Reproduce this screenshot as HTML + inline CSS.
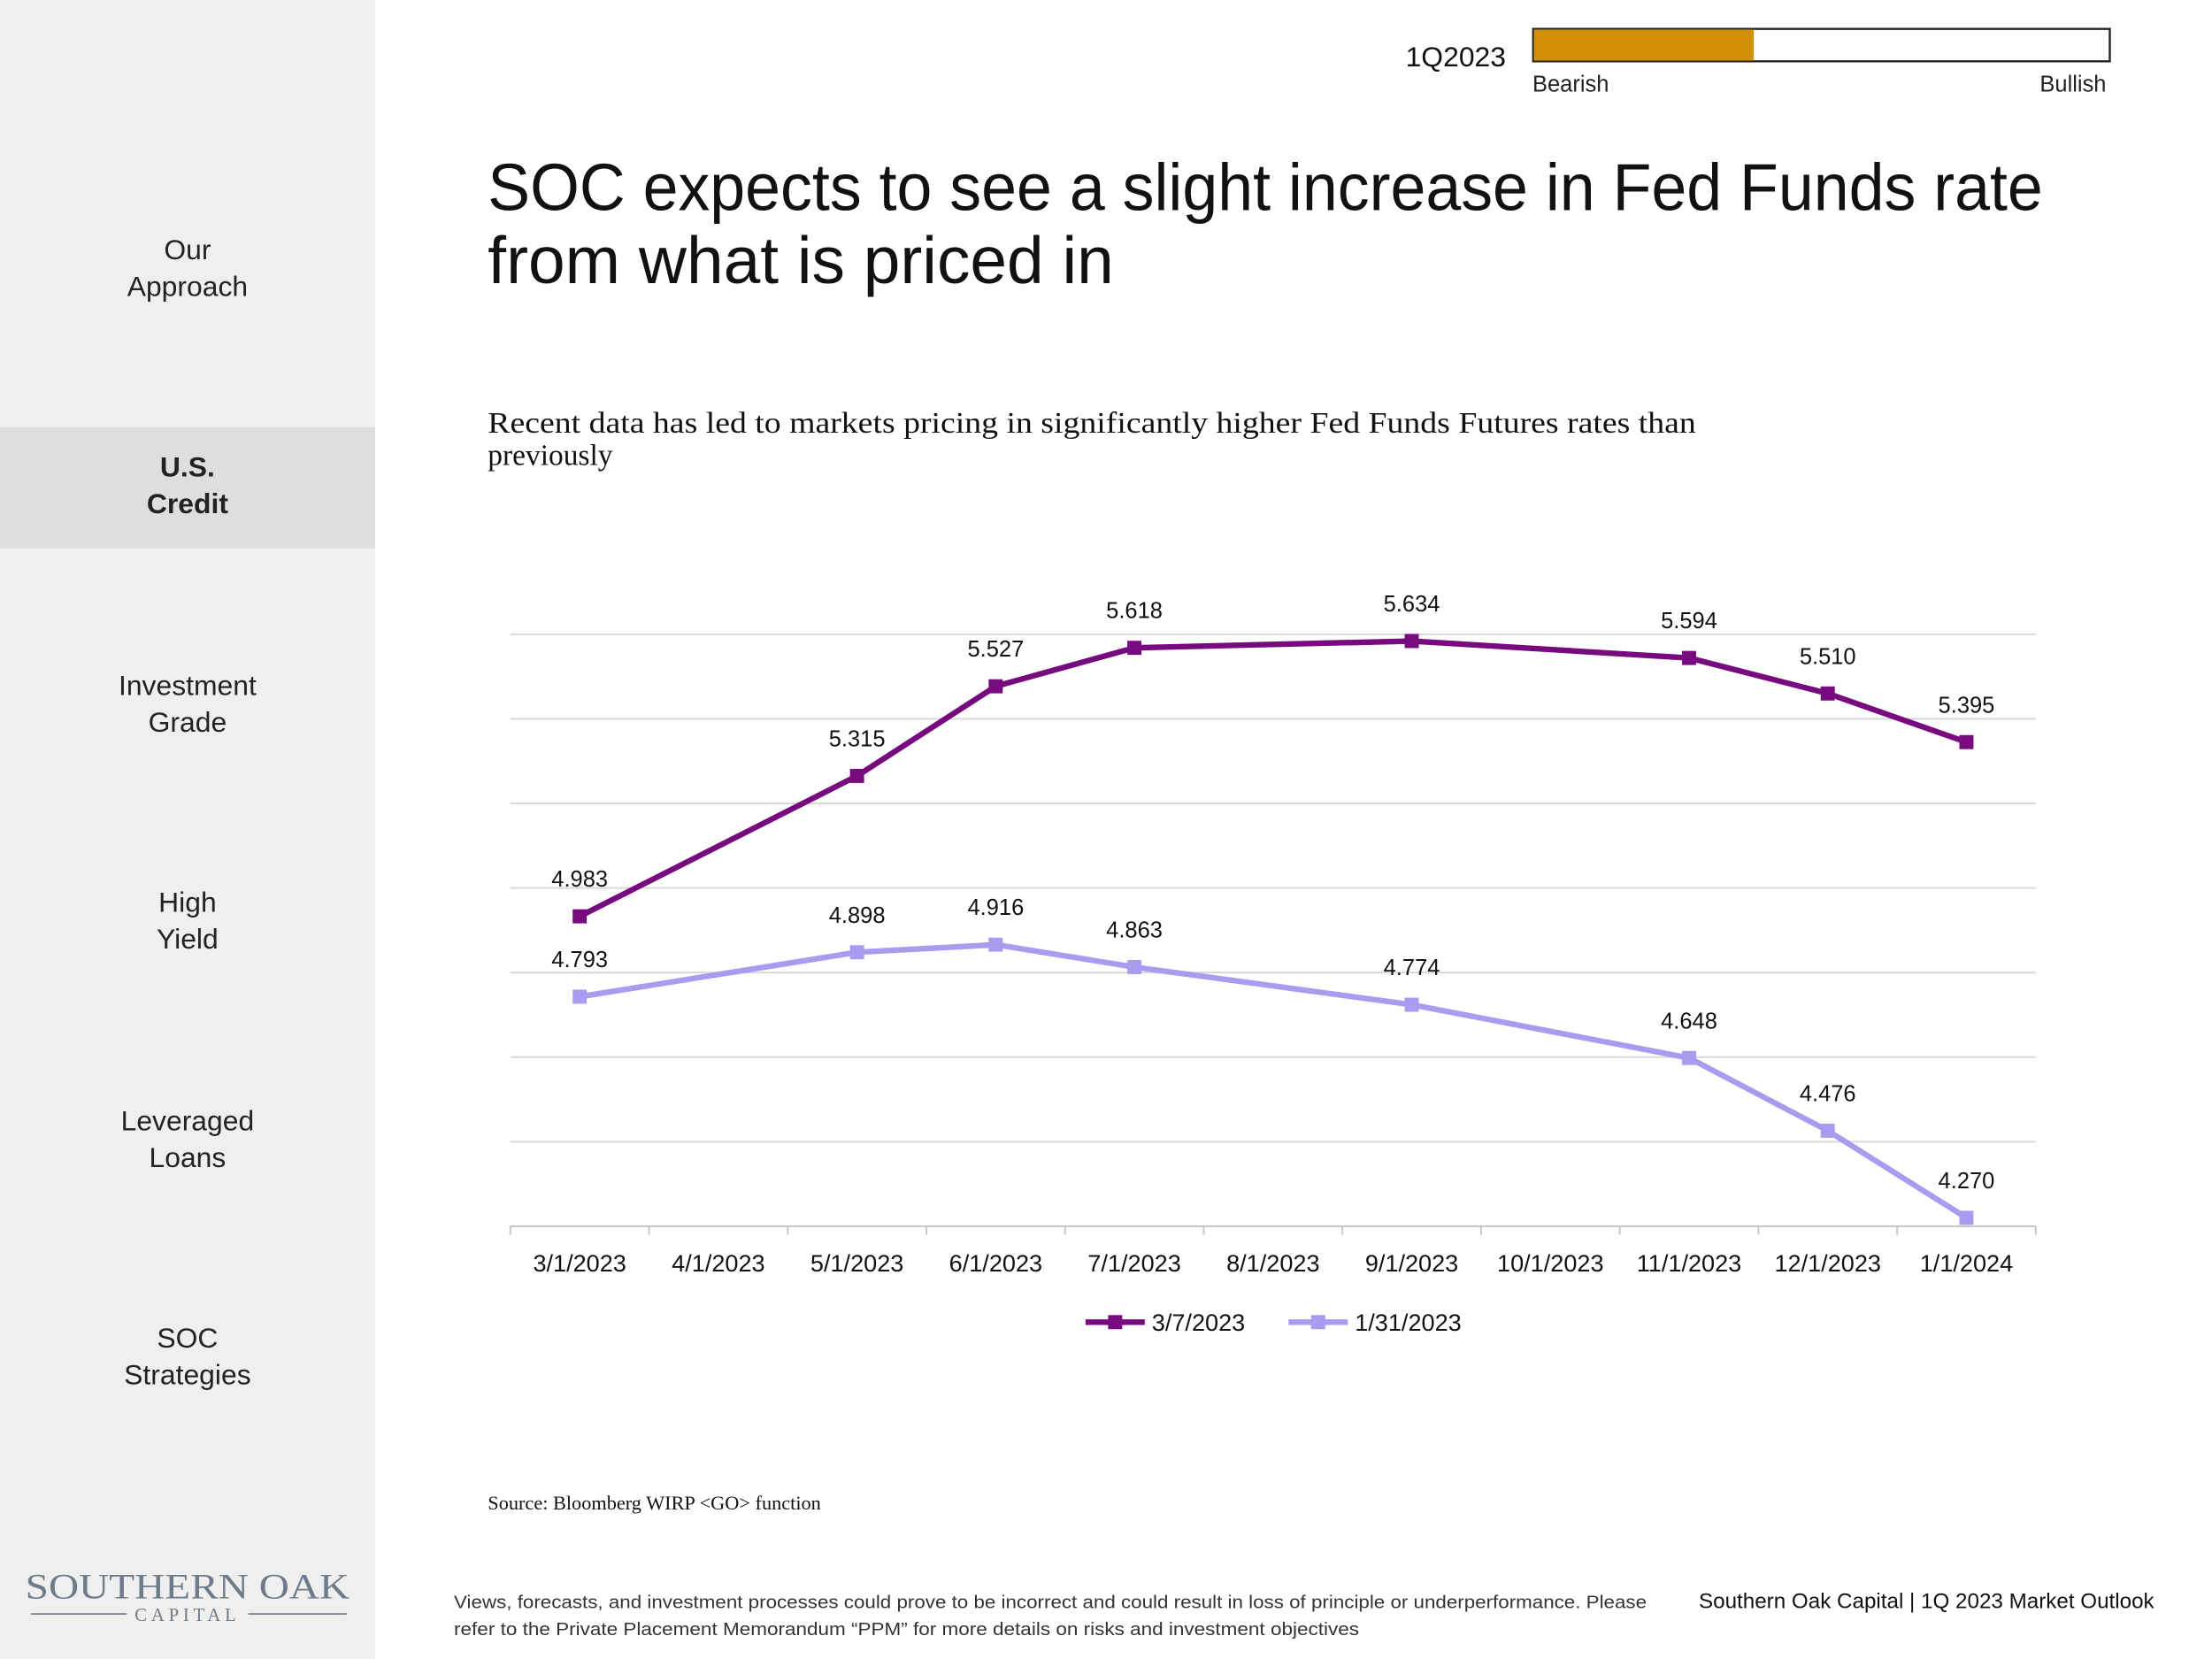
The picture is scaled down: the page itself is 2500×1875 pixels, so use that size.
<!DOCTYPE html>
<html><head><meta charset="utf-8"><style>
html,body{margin:0;padding:0;background:#fff;}
svg{display:block;}
</style></head><body>
<svg id="page" width="2500" height="1875" viewBox="0 0 1569 1177" preserveAspectRatio="none" xmlns="http://www.w3.org/2000/svg" font-family="Liberation Sans, Arial, sans-serif">
<rect x="0" y="0" width="1569" height="1177" fill="#ffffff"/>
<g>
<rect x="0" y="0" width="266" height="1177" fill="#efefef"/>
<rect x="0" y="303" width="266" height="86" fill="#dedede"/>
<g font-size="20" fill="#222" text-anchor="middle">
<text x="133" y="184"><tspan x="133">Our</tspan><tspan x="133" dy="26">Approach</tspan></text>
<text x="133" y="338" font-weight="bold"><tspan x="133">U.S.</tspan><tspan x="133" dy="26">Credit</tspan></text>
<text x="133" y="493"><tspan x="133">Investment</tspan><tspan x="133" dy="26">Grade</tspan></text>
<text x="133" y="647"><tspan x="133">High</tspan><tspan x="133" dy="26">Yield</tspan></text>
<text x="133" y="802"><tspan x="133">Leveraged</tspan><tspan x="133" dy="26">Loans</tspan></text>
<text x="133" y="956"><tspan x="133">SOC</tspan><tspan x="133" dy="26">Strategies</tspan></text>
</g>
<g fill="#6e7b8b" font-family="Liberation Serif, serif">
<text x="133" y="1134" font-size="25" text-anchor="middle" textLength="230" lengthAdjust="spacingAndGlyphs">SOUTHERN OAK</text>
<text x="133" y="1150" font-size="13" text-anchor="middle" letter-spacing="3">CAPITAL</text>
<line x1="22" y1="1145" x2="90" y2="1145" stroke="#6e7b8b" stroke-width="1"/>
<line x1="176" y1="1145" x2="246" y2="1145" stroke="#6e7b8b" stroke-width="1"/>
</g>
</g>
<g>
<text x="997" y="47" font-size="20" fill="#111">1Q2023</text>
<rect x="1087.5" y="20.5" width="409" height="23" fill="#fff" stroke="#222" stroke-width="1.5"/>
<rect x="1088" y="21" width="156" height="22" fill="#d38f07"/>
<text x="1087" y="65" font-size="16" fill="#222">Bearish</text>
<text x="1494" y="65" font-size="16" fill="#222" text-anchor="end">Bullish</text>
</g>
<text font-size="47" fill="#111"><tspan x="346" y="149" textLength="1103" lengthAdjust="spacingAndGlyphs">SOC expects to see a slight increase in Fed Funds rate</tspan><tspan x="346" y="201">from what is priced in</tspan></text>
<text font-family="Liberation Serif, serif" font-size="21" fill="#111"><tspan x="346" y="307" textLength="857" lengthAdjust="spacingAndGlyphs">Recent data has led to markets pricing in significantly higher Fed Funds Futures rates than</tspan><tspan x="346" y="330">previously</tspan></text>
<g id="chart"></g>
<text x="346" y="1071" font-family="Liberation Serif, serif" font-size="14" fill="#111">Source: Bloomberg WIRP &lt;GO&gt; function</text>
<text font-size="12.5" fill="#333"><tspan x="322" y="1141" textLength="846" lengthAdjust="spacingAndGlyphs">Views, forecasts, and investment processes could prove to be incorrect and could result in loss of principle or underperformance.  Please</tspan><tspan x="322" y="1160" textLength="642" lengthAdjust="spacingAndGlyphs">refer to the Private Placement Memorandum “PPM” for more details on risks and investment objectives</tspan></text>
<text x="1205" y="1141" font-size="15" fill="#111" textLength="323" lengthAdjust="spacingAndGlyphs">Southern Oak Capital | 1Q 2023 Market Outlook</text>
</svg>
<script>
const categories = ["3/1/2023","4/1/2023","5/1/2023","6/1/2023","7/1/2023","8/1/2023","9/1/2023","10/1/2023","11/1/2023","12/1/2023","1/1/2024"];
const seriesNames = ["3/7/2023","1/31/2023"];
const march7Values = [4.983,null,5.315,5.527,5.618,null,5.634,null,5.594,5.510,5.395];
const jan31Values = [4.793,null,4.898,4.916,4.863,null,4.774,null,4.648,4.476,4.270];
const yMin = 4.25, yMax = 5.65, yStep = 0.2;

const NS = "http://www.w3.org/2000/svg";
const chart = document.getElementById("chart");
const plotL = 362, plotR = 1444, plotT = 450, plotB = 870;
const band = (plotR - plotL) / categories.length;
function xPos(i){ return plotL + band * (i + 0.5); }
function yPos(v){ return plotB - (v - yMin) / (yMax - yMin) * (plotB - plotT); }
function mk(tag, attrs, parent){
  const e = document.createElementNS(NS, tag);
  for (const k in attrs) e.setAttribute(k, attrs[k]);
  (parent || chart).appendChild(e);
  return e;
}
for (let v = yMin + yStep; v <= yMax + 1e-9; v += yStep) {
  const g = mk("line", {x1: plotL, x2: plotR, y1: yPos(v), y2: yPos(v), stroke: "#d9d9d9", "stroke-width": 1.3});
  
  
}
const axis = mk("line", {x1: plotL, x2: plotR, y1: plotB, y2: plotB, stroke: "#c8c8c8", "stroke-width": 1.3});


for (let i = 0; i <= categories.length; i++) {
  const t = mk("line", {x1: plotL + band * i, x2: plotL + band * i, y1: plotB, y2: plotB + 6, stroke: "#c8c8c8", "stroke-width": 1.3});
  
  
}
categories.forEach((c, i) => {
  const t = mk("text", {x: xPos(i), y: 902, "font-size": 17, fill: "#111", "text-anchor": "middle"});
  t.textContent = c;
  
  
});
const colors = ["#780a80", "#a79cf0"];
[march7Values, jan31Values].forEach((vals, s) => {
  const pts = [];
  vals.forEach((v, i) => { if (v !== null) pts.push([xPos(i), yPos(v), v]); });
  const line = mk("polyline", {points: pts.map(p => p[0] + "," + p[1]).join(" "), fill: "none", stroke: colors[s], "stroke-width": 4, "stroke-linejoin": "round"});
  
  
  pts.forEach(p => {
    const m = mk("rect", {x: p[0] - 5, y: p[1] - 5, width: 10, height: 10, fill: colors[s]});
    
    
    const l = mk("text", {x: p[0], y: p[1] - 21, "font-size": 16, fill: "#111", "text-anchor": "middle"});
    l.textContent = p[2].toFixed(3);
    
    
  });
});
const legendX = [770, 914];
seriesNames.forEach((n, s) => {
  const g = mk("g", {});
  
  
  mk("line", {x1: legendX[s], x2: legendX[s] + 42, y1: 938, y2: 938, stroke: colors[s], "stroke-width": 4}, g);
  mk("rect", {x: legendX[s] + 16, y: 933, width: 10, height: 10, fill: colors[s]}, g);
  const t = mk("text", {x: legendX[s] + 47, y: 944, "font-size": 17, fill: "#111"}, g);
  t.textContent = n;
});
</script>
</body></html>
